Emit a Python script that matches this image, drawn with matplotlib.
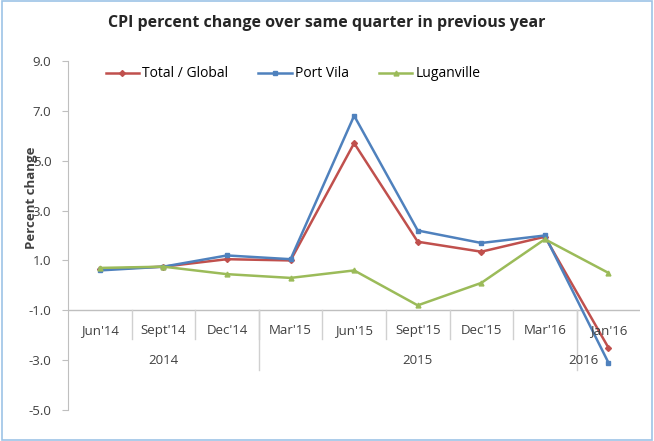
import matplotlib
matplotlib.use("Agg")
import matplotlib.pyplot as plt
from matplotlib.patches import Rectangle

quarters = ["Jun'14", "Sept'14", "Dec'14", "Mar'15", "Jun'15", "Sept'15", "Dec'15", "Mar'16", "Jan'16"]
years = ["2014", "2015", "2016"]
year_first = [0, 3, 8]
year_label_x = [1, 5, 7.6]

total = [0.65, 0.75, 1.05, 1.0, 5.7, 1.75, 1.35, 1.95, -2.5]
port_vila = [0.6, 0.75, 1.2, 1.05, 6.8, 2.2, 1.7, 2.0, -3.1]
luganville = [0.7, 0.75, 0.45, 0.3, 0.6, -0.8, 0.1, 1.85, 0.5]

yticks = [-5, -3, -1, 1, 3, 5, 7, 9]

plt.rcParams['font.family'] = ['Open Sans', 'DejaVu Sans']

fig = plt.figure(figsize=(6.54, 4.41), dpi=100)
fig.patches.append(Rectangle((0.003, 0.003), 0.994, 0.994, transform=fig.transFigure,
                             fill=False, edgecolor='#9DC3E6', linewidth=1.2))
ax = fig.add_axes([0.104, 0.070, 0.875, 0.792])

x = list(range(len(quarters)))
ax.plot(x, total, color='#C0504D', lw=1.8, marker='D', ms=3, label='Total / Global', zorder=3)
ax.plot(x, port_vila, color='#4F81BD', lw=1.8, marker='s', ms=3, label='Port Vila', zorder=3)
ax.plot(x, luganville, color='#9BBB59', lw=1.8, marker='^', ms=3.5, label='Luganville', zorder=3)

ax.set_xlim(-0.5, len(quarters) - 0.5)
ax.set_ylim(-5, 9)
ax.set_yticks(yticks)
ax.set_yticklabels(['%.1f' % v for v in yticks], fontsize=9.5, color='#404040')
ax.tick_params(axis='y', length=4, color='#BFBFBF', pad=8)
ax.set_xticks([])

for s in ['top', 'right', 'bottom']:
    ax.spines[s].set_visible(False)
ax.spines['left'].set_color('#BFBFBF')

# category axis crossing at -1
ax.axhline(-1, color='#BFBFBF', lw=1, zorder=1)
for i, q in enumerate(quarters):
    ax.text(i, -1.8, q, ha='center', va='center', fontsize=9.5, color='#404040')
for i in range(1, len(quarters)):
    ax.plot([i - 0.5, i - 0.5], [-1, -2.15], color='#D0D0D0', lw=1, zorder=1)
for a, lx, yr in zip(year_first, year_label_x, years):
    ax.text(lx, -3.0, yr, ha='center', va='center', fontsize=9.5, color='#404040')
    if a > 0:
        ax.plot([a - 0.5, a - 0.5], [-1, -3.4], color='#D0D0D0', lw=1, zorder=1)

ax.set_ylabel('Percent change', fontsize=9.5, fontweight='bold', color='#404040')
ax.yaxis.set_label_coords(-0.052, 0.607)
fig.suptitle('CPI percent change over same quarter in previous year', fontsize=11.5,
             fontweight='bold', color='#262626', y=0.965)

ax.legend(loc='upper left', bbox_to_anchor=(0.044, 1.02), ncol=3, frameon=False, fontsize=10,
          handlelength=2.4, columnspacing=2.2, handletextpad=0.2)

fig.savefig('out.png', dpi=100)
